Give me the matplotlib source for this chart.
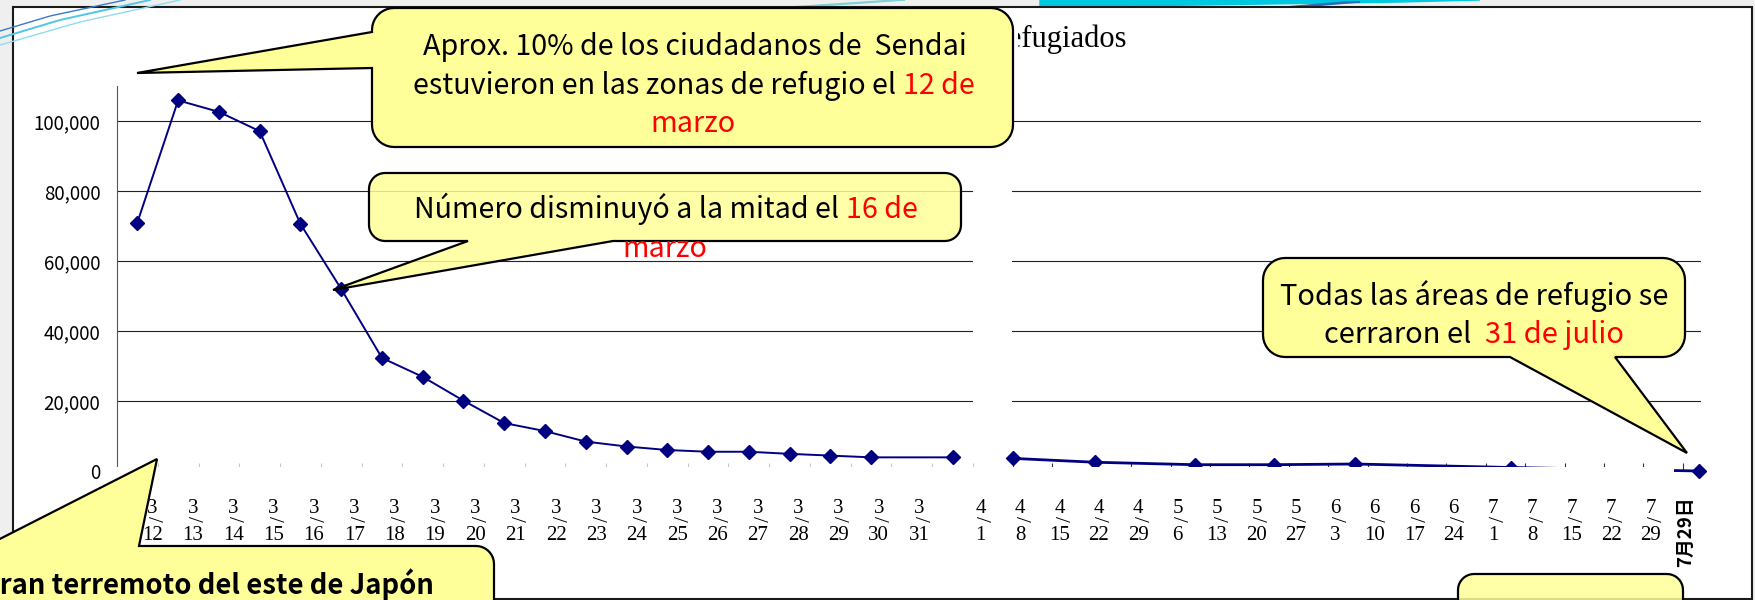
import numpy as np
import matplotlib
matplotlib.use("Agg")
import matplotlib.pyplot as plt
from matplotlib.patches import Polygon, Rectangle
from matplotlib.lines import Line2D
from matplotlib.transforms import Affine2D, blended_transform_factory

# --- data ---
# March: daily counts (slot 19 has no point in the original)
march_slots = [0, 1, 2, 3, 4, 5, 6, 7, 8, 9, 10, 11, 12, 13, 14, 15, 16, 17, 18, 20]
march_values = [71000, 105900, 102600, 97100, 70600, 52000, 32300, 26900, 20100,
                13700, 11400, 8400, 7000, 6000, 5500, 5500, 4900, 4400, 3900, 3900]
march_days = [str(d) for d in range(12, 32)]

# April - July: position on the weekly axis (weeks after 4/8)
late_pos = [0, 2.08, 4.62, 6.62, 8.68, 12.64, 17.41]
late_values = [3600, 2500, 1800, 1800, 2000, 1000, 0]
late_months = ["4", "4", "4", "4", "4", "5", "5", "5", "5", "6", "6", "6", "6",
               "7", "7", "7", "7", "7"]
late_days = ["1", "8", "15", "22", "29", "6", "13", "20", "27", "3", "10", "17", "24",
             "1", "8", "15", "22", "29"]
last_label = "7月29日"

y_ticks = [0, 20000, 40000, 60000, 80000, 100000]
title = "Número de refugiados"

W, H, DPI = 1755, 600, 100
NAVY = "#000080"
YELLOW = "#FFFF99"
RED = "#FF0000"
SANS = ["Noto Sans CJK JP", "DejaVu Sans"]
SERIF = ["Liberation Serif", "DejaVu Serif"]

fig = plt.figure(figsize=(W / DPI, H / DPI), dpi=DPI)
fig.patch.set_facecolor("#efefef")
# pixel coordinates, origin top-left
pix = Affine2D().scale(1 / DPI, -1 / DPI).translate(0, H / DPI) + fig.dpi_scale_trans


def px_axes(x0, y0, x1, y1):
    return fig.add_axes([x0 / W, 1 - y1 / H, (x1 - x0) / W, (y1 - y0) / H])


# slide decoration and chart frame
for xs, ys, c, lw in [((0, 60, 150), (38, 20, 0), "#52c6e6", 1.4),
                      ((0, 50, 125), (31, 16, 0), "#3b78d0", 1.0),
                      ((0, 80, 180), (45, 22, 0), "#8fdcef", 1.0)]:
    xx = np.linspace(xs[0], xs[2], 40)
    yy = np.interp(xx, xs, ys)
    fig.add_artist(Line2D(xx, yy, transform=pix, color=c, lw=lw, zorder=0.5))
fig.add_artist(Polygon([(1040, 0), (1480, 0), (1400, 2), (1200, 5), (1040, 7)],
                       transform=pix, color="#00c8e0", zorder=-2))
fig.add_artist(Polygon([(1285, 7), (1345, 2), (1360, 2), (1300, 7)],
                       transform=pix, color="#2a6cb8", zorder=-2))
fig.add_artist(Polygon([(790, 7), (895, 0), (905, 0), (805, 7)],
                       transform=pix, color="#7fd0d8", zorder=-2))
fig.add_artist(Rectangle((13, 7), 1739, 592, transform=pix, facecolor="white",
                         edgecolor="#1a1a1a", lw=1.5, zorder=-1))

# left chart: March, daily
ax1 = px_axes(117, 86, 973, 471)
ax1.set_facecolor("none")
ax1.plot(march_slots, march_values, color=NAVY, lw=1.4, marker="D", ms=7,
         mec=NAVY, clip_on=False)
ax1.set_xlim(-0.5, 20.5)
ax1.set_ylim(0, 110000)
ax1.set_xticks(np.arange(21) + 0.5)
ax1.tick_params(axis="x", direction="in", length=5.8, width=0.8, color="#c8c8c8",
                labelbottom=False)
ax1.set_yticks(y_ticks, labels=[f"{v:,}" for v in y_ticks])
ax1.tick_params(axis="y", length=0, pad=12, labelsize=13.5)
for lab in ax1.get_yticklabels():
    lab.set_fontfamily(SANS)
ax1.grid(axis="y", color="#222222", lw=0.8)
ax1.set_axisbelow(True)
for side in ["top", "right", "bottom"]:
    ax1.spines[side].set_visible(False)
ax1.spines["left"].set_color("#555555")
ax1.spines["left"].set_linewidth(0.8)

# right chart: April - July, weekly
ax2 = px_axes(1012, 86, 1701, 471)
ax2.set_facecolor("none")
ax2.plot(late_pos, late_values, color=NAVY, lw=2.0, marker="D", ms=7,
         mec=NAVY, clip_on=False)
ax2.set_xlim(-0.025, 17.46)
ax2.set_ylim(0, 110000)
ax2.set_xticks(np.arange(18))
ax2.tick_params(axis="x", direction="in", length=5.8, width=0.8, color="#333333",
                labelbottom=False)
ax2.set_yticks(y_ticks[1:])
ax2.tick_params(axis="y", length=0, labelleft=False)
ax2.grid(axis="y", color="#222222", lw=0.8)
ax2.set_axisbelow(True)
for side in ax2.spines:
    ax2.spines[side].set_visible(False)

# white text box holding the date labels
fig.add_artist(Rectangle((115, 467), 1674 - 115, 596 - 467, transform=pix,
                         facecolor="white", edgecolor="none", zorder=2))


def date_label(ax, x, month, day):
    tr = blended_transform_factory(ax.transData, pix)
    kw = dict(transform=tr, family=SERIF, fontsize=15, ha="center", zorder=3)
    fig.text(x, 513, month, va="baseline", **kw)
    fig.text(x, 518.5, "/", va="center", rotation=-90, **kw)
    fig.text(x, 540, day, va="baseline", **kw)


for k, d in enumerate(march_days):
    date_label(ax1, 0.37 + 0.99 * k, "3", d)
for j, (m, d) in enumerate(zip(late_months, late_days)):
    date_label(ax2, j - 1 + 0.18, m, d)
fig.text(17.06, 532, last_label, transform=blended_transform_factory(ax2.transData, pix),
         family=SANS, fontsize=13.5, weight="bold", rotation=90, ha="center",
         va="center", zorder=3)

# chart title (mostly hidden by the callout)
fig.text(1126, 47, title, transform=pix, family=SERIF, fontsize=22, ha="right",
         va="baseline", zorder=1)
# keep the covered part tidy: only "fugiados" shows past the callout edge
fig.add_artist(Rectangle((990, 12), 28, 50, transform=pix, facecolor="white",
                         edgecolor="none", zorder=1.5))


# callouts
def callout(x0, y0, x1, y1, r, edge=None, a=0, b=0, tip=None, face=YELLOW):
    def arc(cx, cy, t0, t1):
        t = np.radians(np.linspace(t0, t1, 10))
        return list(zip(cx + r * np.cos(t), cy + r * np.sin(t)))

    pts = []
    if edge == "top":
        pts += [(a, y0), tip, (b, y0)]
    pts += arc(x1 - r, y0 + r, -90, 0)
    pts += arc(x1 - r, y1 - r, 0, 90)
    if edge == "bottom":
        pts += [(b, y1), tip, (a, y1)]
    pts += arc(x0 + r, y1 - r, 90, 180)
    if edge == "left":
        pts += [(x0, b), tip, (x0, a)]
    pts += arc(x0 + r, y0 + r, 180, 270)
    fig.add_artist(Polygon(pts, closed=True, transform=pix, facecolor=face,
                           edgecolor="black", lw=1.6, zorder=4))


renderer = fig.canvas.get_renderer()


def text_width(s, size, **kw):
    t = fig.text(0, 0, s, fontsize=size, family=SANS, **kw)
    w = t.get_window_extent(renderer).width
    t.remove()
    return w


def fit(s, target, **kw):
    return 20 * target / text_width(s, 20, **kw)


def line(xc, yb, black, red, size, **kw):
    w = text_width(black + red, size, **kw)
    x0 = xc - w / 2
    common = dict(transform=pix, fontsize=size, family=SANS, va="baseline", zorder=6, **kw)
    if black:
        fig.text(x0, yb, black, ha="left", color="black", **common)
    if red:
        fig.text(x0 + w, yb, red, ha="right", color=RED, **common)


callout(372, 8, 1013, 147, 22, "left", 32, 68, (137, 73))
s = fit("Aprox. 10% de los ciudadanos de  Sendai", 545)
line(695, 55, "Aprox. 10% de los ciudadanos de  Sendai", "", s)
line(694, 94, "estuvieron en las zonas de refugio el ", "12 de", s)
line(693, 132, "", "marzo", s)

callout(369, 173, 961, 241, 16, "bottom", 468, 613, (333, 290),
        face=(1, 1, 0.6, 0.85))
s = fit("Número disminuyó a la mitad el 16 de", 504)
line(666, 218, "Número disminuyó a la mitad el ", "16 de", s)
line(665, 257, "", "marzo", s)

callout(1263, 258, 1685, 357, 22, "bottom", 1510, 1615, (1687, 453))
s = fit("Todas las áreas de refugio se", 388)
line(1474, 305, "Todas las áreas de refugio se", "", s)
line(1474, 343, "cerraron el  ", "31 de julio", s)

callout(-40, 546, 494, 670, 18, "top", -14, 139, (157, 459))
s = fit("ran terremoto del este de Japón", 434, weight="bold")
fig.text(434, 594, "Gran terremoto del este de Japón", transform=pix, ha="right",
         va="baseline", fontsize=s, family=SANS, weight="bold", zorder=6)

callout(1458, 574, 1683, 680, 16, face=(1, 1, 0.6, 0.85))

fig.savefig("out.png", dpi=DPI, facecolor=fig.get_facecolor())
